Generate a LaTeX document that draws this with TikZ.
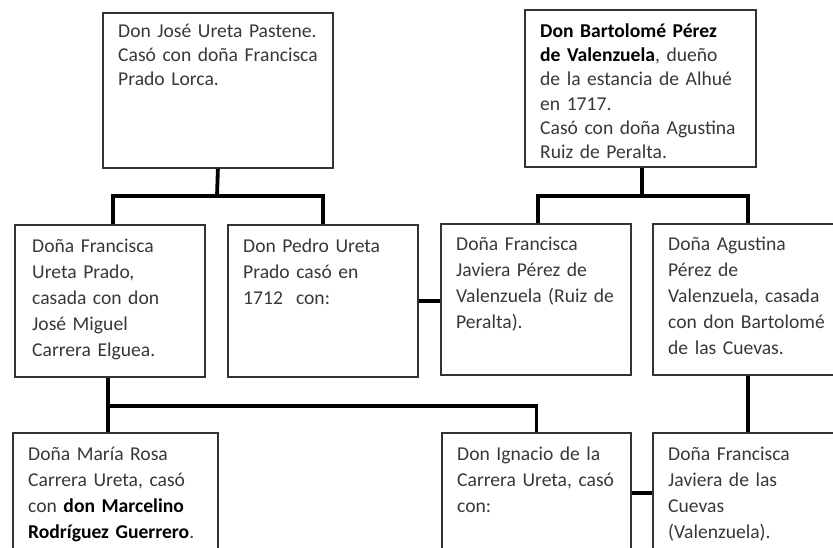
\documentclass[tikz,border=0pt]{standalone}
\usepackage{fontspec}
\setmainfont{Carlito}
\definecolor{txtc}{HTML}{383838}
\definecolor{boxc}{HTML}{333333}
\newcommand\blk[1]{\textcolor{black}{\textbf{#1}}}
\begin{document}
\begin{tikzpicture}[x=1pt,y=-1pt,
  box/.style={draw=boxc, line width=1.8pt, rectangle, inner sep=0pt, anchor=north west},
  link/.style={line width=3.8pt, black},
  txt/.style={anchor=north west, inner sep=0pt, text width=260pt, align=left, text=txtc,
              font=\fontsize{19.6}{26}\selectfont},
  toptxt/.style={txt, font=\fontsize{19.6}{24.3}\selectfont},
]
\useasboundingbox (0,0) rectangle (833,548);
\fill[white] (0,0) rectangle (833,548);
\begin{scope}
\clip (0,0) rectangle (833,548);
% boxes
\node[box, minimum width=230pt, minimum height=155pt] (jose) at (102,12) {};
\node[box, minimum width=231pt, minimum height=157pt] (bartolome) at (524,9) {};
\node[box, minimum width=190pt, minimum height=152pt] (francisca) at (14,224) {};
\node[box, minimum width=190pt, minimum height=152pt] (pedro) at (227,224) {};
\node[box, minimum width=190pt, minimum height=151pt] (javiera) at (440,223) {};
\node[box, minimum width=190pt, minimum height=151pt] (agustina) at (652,223) {};
\node[box, minimum width=205pt, minimum height=140pt] (mariarosa) at (12,432) {};
\node[box, minimum width=189pt, minimum height=140pt] (ignacio) at (441,432) {};
\node[box, minimum width=190pt, minimum height=140pt] (cuevas) at (652,432) {};
% texts
\node[toptxt] (tjose) at (118,17) {\rule{0pt}{20pt}Don José Ureta Pastene.\\ Casó con doña Francisca\\ Prado Lorca.};
\node[toptxt] (tbartolome) at (540,17) {\rule{0pt}{20pt}\blk{Don Bartolomé Pérez}\\ \blk{de Valenzuela}, dueño\\ de la estancia de Alhué\\ en 1717.\\ Casó con doña Agustina\\ Ruiz de Peralta.};
\node[txt] (tfrancisca) at (32,232) {\rule{0pt}{20pt}Doña Francisca\\ Ureta Prado,\\ casada con don\\ José Miguel\\ Carrera Elguea.};
\node[txt] (tpedro) at (243,232) {\rule{0pt}{20pt}Don Pedro Ureta\\ Prado casó en\\ 1712\ \ con:};
\node[txt] (tjaviera) at (456,230) {\rule{0pt}{20pt}Doña Francisca\\ Javiera Pérez de\\ Valenzuela (Ruiz de\\ Peralta).};
\node[txt] (tagustina) at (668,230) {\rule{0pt}{20pt}Doña Agustina\\ Pérez de\\ Valenzuela, casada\\ con don Bartolomé\\ de las Cuevas.};
\node[txt] (tmariarosa) at (28,440) {\rule{0pt}{20pt}Doña María Rosa\\ Carrera Ureta, casó\\ con \blk{don Marcelino}\\ \blk{Rodríguez Guerrero}.};
\node[txt] (tignacio) at (457,440) {\rule{0pt}{20pt}Don Ignacio de la\\ Carrera Ureta, casó\\ con:};
\node[txt] (tcuevas) at (668,440) {\rule{0pt}{20pt}Doña Francisca\\ Javiera de las\\ Cuevas\\ (Valenzuela).};
% connectors
\coordinate (barL) at (217,196);
\coordinate (barR) at (642,196);
\coordinate (kid) at (108,406);
\draw[link] (jose.south) -- (barL);
\draw[link] ([xshift=3pt]francisca.north) |- (barL) -| (pedro.north);
\draw[link] (bartolome.south -| barR) -- (barR);
\draw[link] ([xshift=2pt]javiera.north) |- (barR) -| (agustina.north);
\draw[link] (pedro.east) -- (pedro.east -| javiera.west);
\draw[link] (kid |- francisca.south) -- (kid |- mariarosa.north);
\draw[link] (kid) -| (ignacio.north);
\draw[link] (agustina.south) -- (cuevas.north);
\draw[link] (ignacio.east |- 0,493) -- (cuevas.west |- 0,493);
\end{scope}
\end{tikzpicture}
\end{document}
